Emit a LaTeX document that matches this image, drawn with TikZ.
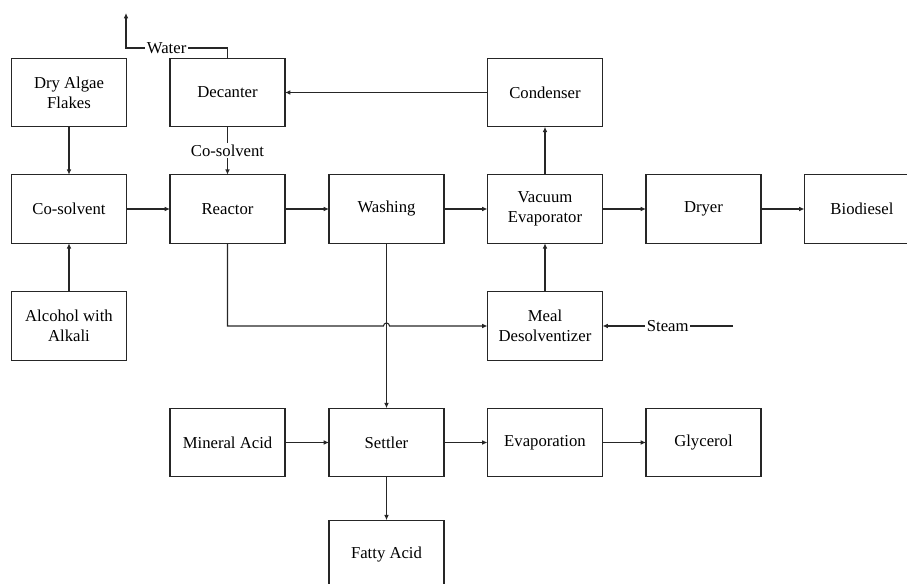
\documentclass[tikz,border=0pt]{standalone}
\usepackage{fontspec}
\setmainfont{Liberation Serif}
\usetikzlibrary{arrows.meta,positioning}
\tikzset{procbox/.style={draw=black!85, line width=0.6pt, minimum width=2.3cm, minimum height=1.37cm, align=center, outer sep=0pt, inner sep=2pt, font=\fontsize{9.5}{11.5}\selectfont}}
\tikzset{arr/.style={draw=black!85, line width=0.6pt, -{Latex[length=3pt,width=2.6pt]}}}
\tikzset{flowlbl/.style={fill=white, inner sep=1pt, font=\fontsize{9.5}{11.5}\selectfont}}

\begin{document}
\begin{tikzpicture}[x=0.02cm, y=-0.02cm]
        \path[use as bounding box, clip] (0,0) rectangle (907,584);

        \node[procbox] (algae) at (69,92.5) {Dry Algae\\Flakes};
        \node[procbox] (decanter) at (227.5,92.5) {Decanter};
        \node[procbox] (condenser) at (545,92.5) {Condenser};
        \node[procbox] (cosolv) at (69,209) {Co-solvent};
        \node[procbox] (reactor) at (227.5,209) {Reactor};
        \node[procbox] (washing) at (386.5,209) {Washing};
        \node[procbox] (vacuum) at (545,209) {Vacuum\\Evaporator};
        \node[procbox] (dryer) at (703.5,209) {Dryer};
        \node[procbox] (biodiesel) at (862,209) {Biodiesel};
        \node[procbox] (alcohol) at (69,326) {Alcohol with\\Alkali};
        \node[procbox] (meal) at (545,326) {Meal\\Desolventizer};
        \node[procbox] (mineral) at (227.5,442.5) {Mineral Acid};
        \node[procbox] (settler) at (386.5,442.5) {Settler};
        \node[procbox] (evap) at (545,442.5) {Evaporation};
        \node[procbox] (glycerol) at (703.5,442.5) {Glycerol};
        \node[procbox] (fatty) at (386.5,554.5) {Fatty Acid};

        \coordinate (waterbend) at (126,48);
        \coordinate (waterout) at (126,13);
        \coordinate (steamin) at (733,326);

        \draw[arr] (algae) -- (cosolv);
        \draw[arr] (alcohol) -- (cosolv);
        \draw[arr] (cosolv) -- (reactor);
        \draw[arr] (reactor) -- (washing);
        \draw[arr] (washing) -- (vacuum);
        \draw[arr] (vacuum) -- (dryer);
        \draw[arr] (dryer) -- (biodiesel);
        \draw[arr] (vacuum) -- (condenser);
        \draw[arr] (meal) -- (vacuum);
        \draw[arr] (condenser) -- (decanter);
        \draw[arr] (decanter) -- node[flowlbl]{Co-solvent} (reactor);
        \draw[arr] (decanter.north) |- node[flowlbl, pos=0.8]{Water} (waterbend) -- (waterout);
        \draw[arr] (steamin) -- node[flowlbl]{Steam} (meal);
        \draw[arr] (reactor.south) |- (383.5,326) arc[start angle=180, end angle=360, radius=3] -- (meal.west);
        \draw[arr] (washing) -- (settler);
        \draw[arr] (mineral) -- (settler);
        \draw[arr] (settler) -- (evap);
        \draw[arr] (evap) -- (glycerol);
        \draw[arr] (settler) -- (fatty);
    \end{tikzpicture}
\end{document}
